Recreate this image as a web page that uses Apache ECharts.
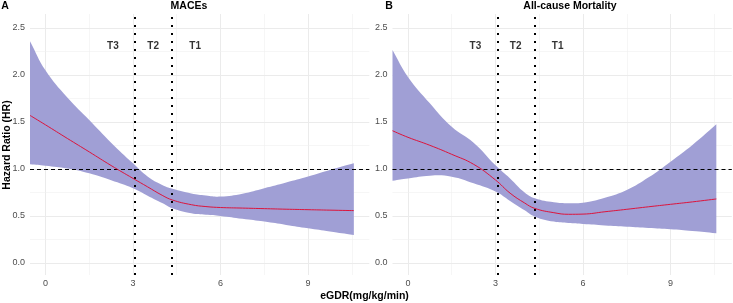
<!DOCTYPE html>
<html><head><meta charset="utf-8">
<script src="https://cdn.jsdelivr.net/npm/echarts@6/dist/echarts.min.js"></script>
<style>html,body{margin:0;padding:0;background:#fff}#c{width:733px;height:303px}</style>
</head><body><div id="c"></div>
<script>
// ---- data ----
const xVals = [-0.53, 0, 0.75, 1.5, 2.25, 3, 3.5, 4, 4.35, 5, 5.5, 6, 6.75, 7.5, 8.25, 9, 9.75, 10.57];
const maceHR    = [1.57, 1.47, 1.325, 1.182, 1.037, 0.90, 0.81, 0.72, 0.67, 0.62, 0.60, 0.59, 0.584, 0.578, 0.572, 0.567, 0.562, 0.557];
const maceUpper = [2.36, 2.05, 1.76, 1.52, 1.28, 1.06, 0.92, 0.83, 0.79, 0.74, 0.718, 0.706, 0.737, 0.795, 0.856, 0.92, 0.99, 1.06];
const maceLower = [1.05, 1.035, 1.005, 0.954, 0.88, 0.795, 0.716, 0.638, 0.582, 0.528, 0.512, 0.50, 0.47, 0.44, 0.405, 0.369, 0.335, 0.298];
const mortHR    = [1.407, 1.337, 1.252, 1.156, 1.05, 0.883, 0.743, 0.638, 0.58, 0.535, 0.518, 0.52, 0.545, 0.571, 0.598, 0.624, 0.65, 0.681];
const mortUpper = [2.266, 1.98, 1.70, 1.45, 1.28, 1.04, 0.90, 0.75, 0.688, 0.645, 0.635, 0.642, 0.695, 0.777, 0.911, 1.078, 1.255, 1.475];
const mortLower = [0.876, 0.90, 0.929, 0.918, 0.848, 0.76, 0.66, 0.56, 0.493, 0.44, 0.425, 0.415, 0.40, 0.386, 0.372, 0.358, 0.34, 0.316];
const cutoffs = [3.07, 4.34];
const tertileNames = ['T3', 'T2', 'T1'];
const tertileX = [2.31, 3.69, 5.13];
const tertileY = 2.31;
const refHR = 1;
const xTicks = [0, 3, 6, 9];
const xMinor = [1.5, 4.5, 7.5, 10.5];
const yTicks = [0, 0.5, 1.0, 1.5, 2.0, 2.5];
const yMinor = [0.25, 0.75, 1.25, 1.75, 2.25];
const panelTitles = ['MACEs', 'All-cause Mortality'];
const panelTags = ['A', 'B'];

// ---- chart ----
const FONT = '"Liberation Sans", Arial, sans-serif';
const SMOOTH = 0.45;
const chart = echarts.init(document.getElementById('c'), null, {renderer: 'canvas'});
const panels = [
  {hr: maceHR, up: maceUpper, lo: maceLower},
  {hr: mortHR, up: mortUpper, lo: mortLower}
];
const grids = [
  {left: 30, top: 14, width: 339.3, height: 261},
  {left: 392.5, top: 14, width: 339.3, height: 261}
];
const xMin = -0.53, xMax = 11.1, yMin = -0.128, yMax = 2.649;

const xAxes = [], yAxes = [], series = [];
grids.forEach((g, i) => {
  xAxes.push({
    type: 'value', gridIndex: i, min: xMin, max: xMax, splitNumber: 4,
    axisLine: {show: false}, axisTick: {show: false}, splitLine: {show: false},
    axisLabel: {color: '#4d4d4d', fontSize: 9, fontFamily: FONT, margin: 4,
      showMinLabel: false, showMaxLabel: false,
      formatter: v => xTicks.some(t => Math.abs(t - v) < 1e-6) ? String(Math.round(v)) : ''}
  });
  yAxes.push({
    type: 'value', gridIndex: i, min: yMin, max: yMax, splitNumber: 5,
    axisLine: {show: false}, axisTick: {show: false}, splitLine: {show: false},
    axisLabel: {color: '#4d4d4d', fontSize: 9, fontFamily: FONT, margin: 5,
      showMinLabel: false, showMaxLabel: false,
      formatter: v => yTicks.some(t => Math.abs(t - v) < 1e-6) ? v.toFixed(1) : ''}
  });
  const p = panels[i];
  const gl = [];
  xTicks.forEach(v => gl.push({xAxis: v, lineStyle: {color: '#ebebeb', width: 1, type: 'solid'}}));
  xMinor.forEach(v => gl.push({xAxis: v, lineStyle: {color: '#f0f0f0', width: 0.6, type: 'solid'}}));
  yTicks.forEach(v => gl.push({yAxis: v, lineStyle: {color: '#ebebeb', width: 1, type: 'solid'}}));
  yMinor.forEach(v => gl.push({yAxis: v, lineStyle: {color: '#f0f0f0', width: 0.6, type: 'solid'}}));
  series.push({
    type: 'line', xAxisIndex: i, yAxisIndex: i, data: [], silent: true, z: 0,
    markLine: {z: 0, silent: true, symbol: ['none', 'none'], label: {show: false}, animation: false, data: gl}
  });
  // confidence ribbon as one smoothed polygon through the axis scales
  series.push({
    type: 'custom', xAxisIndex: i, yAxisIndex: i, z: 2, silent: true,
    data: xVals.map((x, k) => [x, p.lo[k], p.up[k]]),
    encode: {x: 0, y: [1, 2]},
    renderItem: (params, api) => {
      if (params.dataIndex !== 0) return null;
      const upPts = xVals.map((x, k) => api.coord([x, p.up[k]]));
      const loPts = xVals.map((x, k) => api.coord([x, p.lo[k]])).reverse();
      const pts = [];
      upPts.forEach((pt, k) => {
        if (k === 0 || k === upPts.length - 1) pts.push(pt.slice());
        pts.push(pt);
      });
      loPts.forEach((pt, k) => {
        if (k === 0 || k === loPts.length - 1) pts.push(pt.slice());
        pts.push(pt);
      });
      return {
        type: 'polygon', z2: 2,
        shape: {points: pts, smooth: SMOOTH},
        style: {fill: '#a09fd5', stroke: null}
      };
    }
  });
  series.push({
    type: 'line', xAxisIndex: i, yAxisIndex: i, data: [], z: 3, silent: true,
    markLine: {z: 3, silent: true, symbol: ['none', 'none'], label: {show: false}, animation: false,
      data: [
        {yAxis: refHR, lineStyle: {color: '#000', width: 1, type: [4, 3]}},
        ...cutoffs.map(c => ({xAxis: c, lineStyle: {color: '#000', width: 2, type: [2, 6]}}))
      ]}
  });
  series.push({
    type: 'line', xAxisIndex: i, yAxisIndex: i, z: 4,
    data: xVals.map((x, k) => [x, p.hr[k]]), symbol: 'none', smooth: SMOOTH,
    lineStyle: {color: '#dc143c', width: 1}
  });
  series.push({
    type: 'scatter', xAxisIndex: i, yAxisIndex: i, z: 5, symbolSize: 1,
    itemStyle: {color: 'transparent'},
    data: tertileNames.map((n, k) => [tertileX[k], tertileY, n]),
    label: {show: true, position: 'inside', formatter: q => q.data[2],
      fontWeight: 'bold', fontSize: 10, fontFamily: FONT, color: '#000'}
  });
});

const txt = (x, y, text, extra) => Object.assign({
  type: 'text', x: x, y: y,
  style: Object.assign({text: text, fontFamily: FONT, fontWeight: 'bold', fontSize: 10.5, fill: '#000',
    textAlign: 'center', textVerticalAlign: 'middle'}, extra || {})
});

chart.setOption({
  animation: false,
  backgroundColor: '#fff',
  grid: grids,
  xAxis: xAxes,
  yAxis: yAxes,
  series: series,
  graphic: [
    txt(5, 6.5, panelTags[0]),
    txt(389, 6.5, panelTags[1]),
    txt(189, 6.5, panelTitles[0]),
    txt(570, 6.5, panelTitles[1]),
    txt(364.5, 296, 'eGDR(mg/kg/min)'),
    Object.assign(txt(7.5, 145, 'Hazard Ratio (HR)'), {rotation: Math.PI / 2})
  ]
});
</script></body></html>
